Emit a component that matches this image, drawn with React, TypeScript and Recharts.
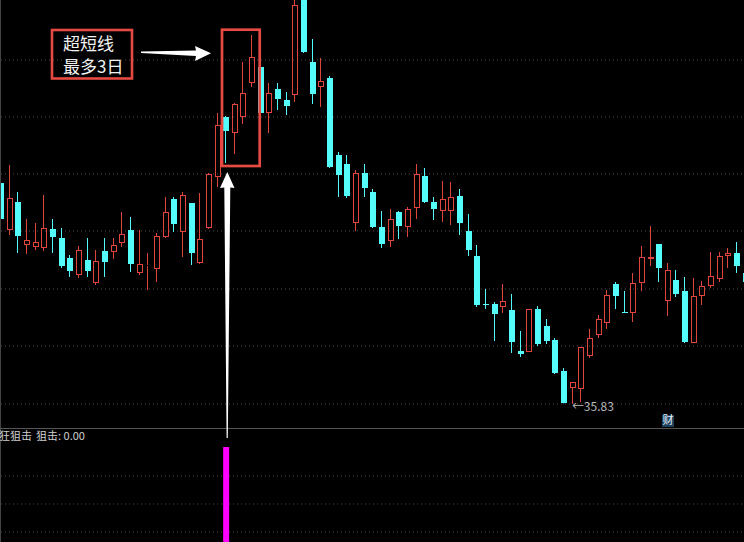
import { Bar, CartesianGrid, ComposedChart, ReferenceDot, XAxis, YAxis } from "recharts";

// K线配色：阳线空心红、阴线实心青
const UP = "#e0463d";
const DOWN = "#54fcfc";
const GRID = "#4a4a4a";
const MAGENTA = "#ff00ff";
const MARK = "#e64a42";
const FONT = "'Noto Sans CJK SC', 'Noto Sans', sans-serif";

// 日K数据（按交易日顺序）
const OPEN = [
  46.88, 44.53, 45.93, 43.78, 43.68, 43.63, 44.58, 44.13, 43.13, 42.28,
  43.03, 41.88, 43.48, 43.43, 43.88, 44.53, 42.38, 42.76, 42.58, 44.18,
  46.08, 44.43, 45.88, 42.88, 44.63, 47.18, 50.18, 49.38, 50.18, 51.88,
  52.68, 50.38, 51.58, 51.03, 51.28, 56.5, 52.93, 51.68, 52.13, 48.28,
  47.83, 44.88, 47.38, 46.43, 44.68, 43.98, 45.43, 44.68, 45.63, 47.23,
  45.93, 45.48, 45.48, 46.23, 44.48, 43.23, 40.83, 40.83, 40.68, 40.53,
  38.48, 38.43, 40.58, 39.73, 39.03, 37.48, 36.63, 36.58, 38.23, 39.28,
  39.88, 41.83, 40.43, 40.38, 41.88, 43.08, 43.83, 40.98, 42.03, 41.48,
  38.88, 41.23, 41.73, 42.08, 43.23, 43.38, 42.38,
];
const HIGH = [
  47.03, 47.78, 46.43, 45.08, 44.88, 46.28, 45.08, 44.63, 43.28, 43.73,
  44.13, 43.53, 44.13, 44.13, 45.43, 45.18, 44.53, 43.38, 44.38, 46.18,
  46.18, 46.43, 45.88, 46.38, 47.38, 50.38, 50.23, 50.88, 52.93, 54.28,
  53.38, 51.88, 51.88, 51.43, 56.3, 56.8, 54.08, 53.13, 52.23, 48.43,
  48.28, 47.53, 47.83, 46.58, 45.48, 45.58, 45.48, 45.68, 47.83, 47.63,
  46.18, 46.98, 46.93, 46.58, 45.33, 43.78, 41.58, 40.93, 41.83, 41.33,
  39.48, 40.58, 40.73, 40.08, 39.13, 37.63, 36.93, 38.68, 39.58, 40.28,
  41.53, 41.93, 41.48, 42.38, 43.73, 44.73, 43.83, 42.88, 42.53, 42.18,
  42.13, 41.98, 43.43, 43.43, 43.63, 43.93, 43.6,
];
const LOW = [
  44.93, 44.28, 43.38, 43.33, 43.53, 43.48, 43.38, 42.63, 42.18, 42.13,
  42.18, 41.78, 42.18, 43.08, 43.68, 42.43, 42.28, 41.53, 41.93, 44.13,
  44.43, 43.18, 42.78, 42.83, 44.58, 46.68, 47.88, 48.33, 49.83, 51.68,
  50.28, 49.38, 50.53, 50.28, 50.93, 53.38, 50.83, 50.68, 47.63, 46.18,
  46.13, 44.48, 46.18, 44.63, 43.63, 43.68, 44.08, 44.18, 45.08, 45.88,
  45.03, 44.93, 44.78, 44.28, 43.23, 40.68, 40.58, 38.98, 40.38, 38.38,
  38.18, 38.43, 38.73, 38.83, 37.33, 35.86, 35.83, 35.93, 38.13, 39.13,
  39.58, 40.58, 40.38, 39.93, 41.48, 42.73, 41.93, 40.23, 41.18, 38.88,
  38.88, 40.78, 41.63, 41.93, 42.63, 42.38, 41.5,
];
const CLOSE = [
  45.08, 46.13, 44.23, 44.03, 43.93, 44.63, 44.18, 42.73, 42.48, 43.53,
  42.48, 42.98, 42.93, 43.78, 44.33, 42.83, 42.83, 42.78, 44.23, 45.43,
  44.83, 46.28, 43.38, 44.08, 47.33, 49.78, 49.48, 50.83, 51.38, 53.18,
  50.38, 51.38, 51.08, 50.73, 55.78, 53.43, 51.33, 51.98, 47.68, 47.28,
  46.23, 47.38, 46.63, 44.68, 43.83, 45.08, 44.73, 45.58, 47.33, 45.93,
  45.58, 46.08, 46.18, 44.88, 43.53, 40.78, 40.83, 40.33, 40.98, 38.93,
  38.33, 40.58, 38.83, 38.98, 37.38, 35.88, 36.93, 38.68, 39.13, 40.08,
  41.28, 41.23, 40.43, 41.88, 43.18, 43.18, 42.63, 42.53, 41.33, 38.93,
  41.23, 41.73, 42.23, 43.23, 43.38, 42.73, 41.93,
];
// 狙击信号出现的交易日
const SIGNAL_DAYS = [26];

// 主图价格区间与网格位置
const PRICE_DOMAIN = [34.63, 56.03];
const MAIN_GRID = [60, 117, 174, 231, 289, 346, 404];
const SUB_GRID = [48, 76, 104];

const rows = OPEN.map((open, i) => ({
  i,
  open,
  high: HIGH[i],
  low: LOW[i],
  close: CLOSE[i],
  range: [LOW[i], HIGH[i]],
  sig: SIGNAL_DAYS.includes(i) ? 1 : 0,
}));

const lowIdx = LOW.indexOf(Math.min(...LOW));
const lastSig = rows[rows.length - 1].sig;

// 一格 8.66px，共 87 根
const CHART_W = 753.42;
const SHIFT = -2.63;

function Candle(props: any) {
  const { x, y, width, height, payload } = props;
  if (!payload) return null;
  const top = Math.min(y, y + height);
  const h = Math.abs(height);
  const { open, close, high, low } = payload;
  const py = (v: number) => top + ((high - v) / (high - low)) * h;
  const up = close > open;
  const color = up ? UP : DOWN;
  const bx = Math.round(x);
  const cx = bx + Math.round(width / 2) - 0.5;
  const bTop = Math.round(py(Math.max(open, close)));
  const bBot = Math.max(Math.round(py(Math.min(open, close))), bTop + 1);
  const hi = py(high);
  const lo = py(low);
  if (up) {
    return (
      <g>
        <line x1={cx} x2={cx} y1={hi} y2={bTop} stroke={color} />
        <line x1={cx} x2={cx} y1={bBot} y2={lo} stroke={color} />
        <rect x={bx + 0.5} y={bTop + 0.5} width={width - 1} height={Math.max(bBot - bTop - 1, 0)} fill="none" stroke={color} />
      </g>
    );
  }
  return (
    <g>
      <line x1={cx} x2={cx} y1={hi} y2={lo} stroke={color} />
      <rect x={bx} y={bTop} width={width} height={bBot - bTop} fill={color} />
    </g>
  );
}

function LowLabel(props: any) {
  const { cx, cy } = props;
  return (
    <text x={cx - 1} y={cy + 4} fill="#b8b8b8" fontSize={12} fontFamily={FONT} dominantBaseline="middle">
      {"←" + LOW[lowIdx].toFixed(2)}
    </text>
  );
}

export default function App() {
  return (
    <div
      style={{
        position: "fixed",
        left: 0,
        top: 0,
        width: 744,
        height: 542,
        overflow: "hidden",
        background: "#000",
      }}
    >
      <div style={{ position: "absolute", left: SHIFT, top: 0 }}>
        <ComposedChart width={CHART_W} height={428} data={rows} margin={{ top: 0, right: 0, bottom: 0, left: 0 }}>
          <CartesianGrid horizontalPoints={MAIN_GRID} vertical={false} stroke={GRID} strokeDasharray="1 3" />
          <XAxis dataKey="i" hide />
          <YAxis hide type="number" domain={PRICE_DOMAIN} allowDataOverflow />
          <Bar dataKey="range" barSize={6} shape={Candle} isAnimationActive={false} />
          <ReferenceDot x={lowIdx} y={LOW[lowIdx]} r={0} shape={LowLabel} />
        </ComposedChart>
      </div>
      <div style={{ position: "absolute", left: SHIFT, top: 428 }}>
        <ComposedChart width={CHART_W} height={140} data={rows} margin={{ top: 19, right: 0, bottom: 0, left: 0 }}>
          <CartesianGrid horizontalPoints={SUB_GRID} vertical={false} stroke={GRID} strokeDasharray="1 3" />
          <XAxis dataKey="i" hide />
          <YAxis hide type="number" domain={[0, 1]} />
          <Bar dataKey="sig" barSize={6} fill={MAGENTA} isAnimationActive={false} />
        </ComposedChart>
      </div>
      <svg
        width={744}
        height={542}
        style={{ position: "absolute", left: 0, top: 0, pointerEvents: "none" }}
        fontFamily={FONT}
      >
        <line x1={0.5} x2={0.5} y1={0} y2={542} stroke="#444" />
        <line x1={0} x2={744} y1={428.5} y2={428.5} stroke="#555" />

        {/* 标注框 */}
        <rect x={52} y={30} width={80} height={48.5} fill="none" stroke={MARK} strokeWidth={2.6} />
        <text x={63} y={49.5} fill="#f2f2f2" fontSize={17}>超短线</text>
        <text x={63} y={73} fill="#f2f2f2" fontSize={17}>最多3日</text>
        <polygon points="141,51.5 196,50.5 195,46 211,53.3 195,61 196,56 141,53" fill="#fff" />
        <rect x={222} y={29.7} width={37.7} height={136.3} fill="none" stroke={MARK} strokeWidth={2.7} />
        <polygon points="227.3,172 234.5,188 230.3,187.5 227.8,438 226.6,438 224.3,187.5 220,188" fill="#fff" />

        <rect x={662} y={415} width={12} height={12} fill="#1c3f5a" />
        <text x={668} y={421.5} fill="#e6f2ff" fontSize={11} textAnchor="middle" dominantBaseline="middle">财</text>

        <text x={-1} y={440} fill="#d0d0d0" fontSize={11}>狂狙击</text>
        <text x={36} y={440} fill="#d0d0d0" fontSize={11}>{"狙击: " + lastSig.toFixed(2)}</text>
      </svg>
    </div>
  );
}
